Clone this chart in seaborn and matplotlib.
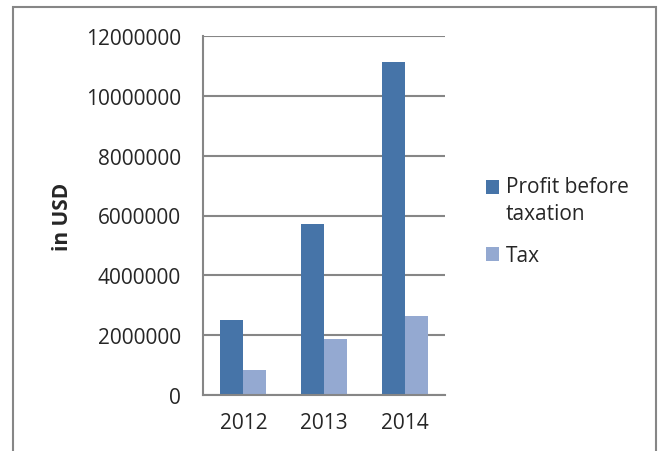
import matplotlib
matplotlib.use("Agg")
import matplotlib.pyplot as plt
import seaborn as sns
import pandas as pd
from matplotlib.patches import Rectangle, Patch

years = ["2012", "2013", "2014"]
profit = [2500000, 5710000, 11120000]
tax = [830000, 1870000, 2630000]
series_names = ["Profit before\ntaxation", "Tax"]
colors = ["#4674A8", "#94A9D1"]

df = pd.DataFrame({
    "year": years * 2,
    "value": profit + tax,
    "series": [series_names[0]] * 3 + [series_names[1]] * 3,
})

sns.set_theme(style="white")
plt.rcParams["font.family"] = ["Open Sans", "DejaVu Sans"]

W, H = 662, 452
fig = plt.figure(figsize=(W / 100, H / 100), dpi=100)
ax = fig.add_axes([203 / W, 1 - 396 / H, (445 - 203) / W, (396 - 37) / H])

sns.barplot(data=df, x="year", y="value", hue="series", palette=colors,
            width=0.57, gap=0, ax=ax, legend=False, saturation=1,
            edgecolor="none")

ax.set_ylim(0, 12000000)
ax.set_yticks(range(0, 12000001, 2000000))
ax.set_yticklabels([str(v) for v in range(0, 12000001, 2000000)], fontsize=15)
ax.set_xlim(-0.5, 2.5)
ax.set_xticks([-0.5, 0.5, 1.5, 2.5], minor=False)
ax.set_xticklabels([])
ax.set_xticks([0, 1, 2], minor=True)
ax.set_xticklabels(years, minor=True, fontsize=15)
ax.tick_params(axis="x", which="minor", length=0, pad=12)
ax.tick_params(axis="x", which="major", length=6, width=1.5, color="#868686", direction="out")
ax.tick_params(axis="y", length=6, width=1.5, color="#868686", direction="out", pad=10)
ax.set_xlabel("")
ax.set_ylabel("in USD", fontsize=15, fontweight="bold", labelpad=9)
ax.yaxis.grid(True, color="#868686", linewidth=1.5)
ax.set_axisbelow(True)
for s in ["top", "right"]:
    ax.spines[s].set_visible(False)
for s in ["left", "bottom"]:
    ax.spines[s].set_color("#868686")
    ax.spines[s].set_linewidth(1.5)

handles = [Patch(facecolor=c, edgecolor="none") for c in colors]
leg = fig.legend(handles, series_names, loc="upper left",
                 bbox_to_anchor=(467 / W, 1 - 158 / H), frameon=False,
                 fontsize=15, handlelength=0.65, handleheight=0.65,
                 handletextpad=0.3, labelspacing=1.0)
leg.get_texts()[0].set_linespacing(1.4)
h0 = leg.legend_handles[0]
h0.set_y(h0.get_y() + 10)

fig.patches.append(Rectangle((13 / W, -0.1), (656 - 13) / W, 1.1 - 8 / H,
                             transform=fig.transFigure, fill=False,
                             edgecolor="#868686", linewidth=1.5))

fig.savefig("out.png", dpi=100)
